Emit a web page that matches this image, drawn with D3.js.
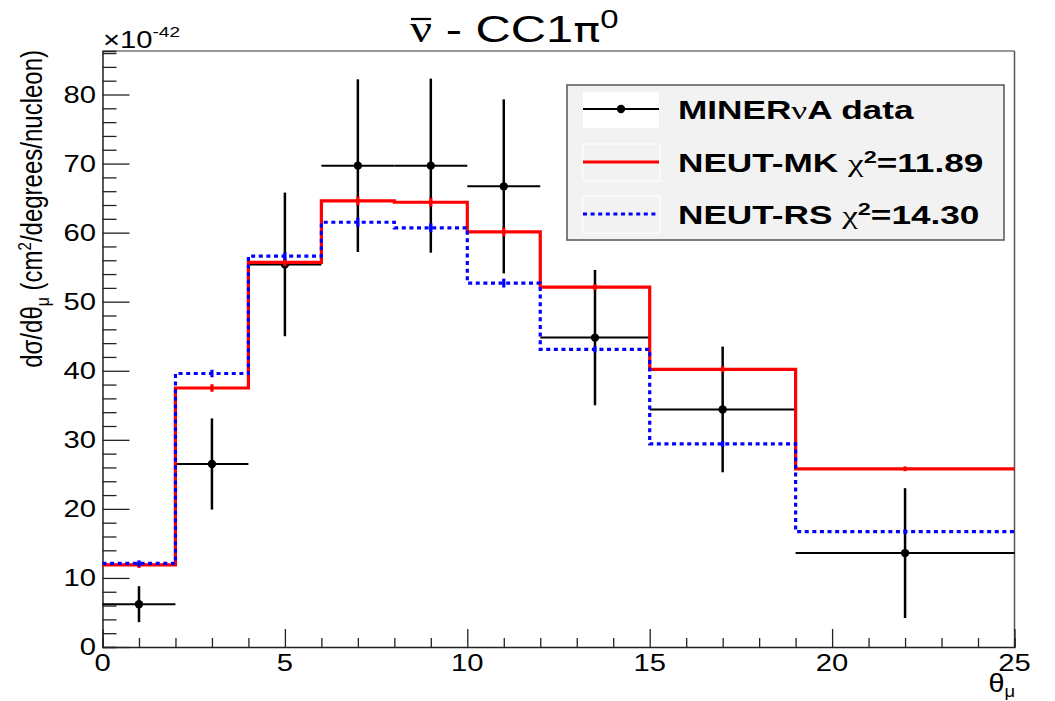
<!DOCTYPE html>
<html>
<head>
<meta charset="utf-8">
<script src="https://cdn.jsdelivr.net/npm/d3@7"></script>
<style>
  body { margin: 0; background: #fff; }
  text { font-family: "Liberation Sans", Arial, sans-serif; fill: #000; }
</style>
</head>
<body>
<svg id="chart" width="1055" height="701"></svg>
<script>
// Variables
var width = 1055;
var height = 701;
var SX = 1.27; // picture is a bit wider than tall, text looks stretched

// bin edges of theta_mu (degrees)
var binEdges = [0, 2, 4, 6, 8, 10, 12, 15, 19, 25];

// MINERvA data, units of 1e-42
var dataVal = [6.2, 26.5, 55.4, 69.7, 69.7, 66.7, 44.8, 34.4, 13.6];
var dataErr = [2.6, 6.6, 10.4, 12.5, 12.6, 12.6, 9.8, 9.1, 9.4];

// NEUT predictions
var mkVal = [11.9, 37.5, 55.7, 64.6, 64.4, 60.1, 52.1, 40.2, 25.8];
var mkErr = [0.3, 0.4, 0.4, 0.5, 0.5, 0.5, 0.3, 0.3, 0.2];
var rsVal = [12.1, 39.6, 56.6, 61.5, 60.7, 52.7, 43.1, 29.4, 16.7];
var rsErr = [0.3, 0.4, 0.4, 0.5, 0.5, 0.5, 0.3, 0.3, 0.2];

var xTicks = [0, 5, 10, 15, 20, 25];
var yTicks = [0, 10, 20, 30, 40, 50, 60, 70, 80];
var legendLabels = ['MINERνA data', 'NEUT-MK', 'NEUT-RS'];
var legendChi2 = [null, '11.89', '14.30'];

var svg = d3.select('#chart');

var x = d3.scaleLinear().domain([0, 25]).range([102.5, 1014.5]);
var y = d3.scaleLinear().domain([0, 86.3]).range([647, 51]);

// helper for stretched text
function place(sel, px, py, sx) {
  return sel.attr('transform', 'translate(' + px + ',' + py + ') scale(' + (sx || SX) + ',1)');
}

// frame (top / right)
svg.append('line').attr('x1', x(0)).attr('x2', x(25)).attr('y1', y(86.3)).attr('y2', y(86.3))
  .attr('stroke', '#777').attr('stroke-width', 1.5);
svg.append('line').attr('x1', x(25)).attr('x2', x(25)).attr('y1', y(86.3)).attr('y2', y(0))
  .attr('stroke', '#555').attr('stroke-width', 1.5);

// axes, ROOT style ticks pointing inside
var xAxis = svg.append('g').attr('transform', 'translate(0,' + y(0) + ')')
  .call(d3.axisTop(x).tickValues(d3.range(0, 26, 1)).tickSize(9).tickFormat(''));
xAxis.selectAll('.tick line').attr('y2', function(d) { return d % 5 === 0 ? -18 : -9; });
var yAxis = svg.append('g').attr('transform', 'translate(' + x(0) + ',0)')
  .call(d3.axisRight(y).tickValues(d3.range(0, 87, 2)).tickSize(14).tickFormat(''));
yAxis.selectAll('.tick line').attr('x2', function(d) { return d % 10 === 0 ? 27 : 14; });
[xAxis, yAxis].forEach(function(a) {
  a.select('.domain').attr('stroke', '#222').attr('stroke-width', 1.5);
  a.selectAll('.tick line').attr('stroke', '#222').attr('stroke-width', 1.3);
});

// tick labels
xTicks.forEach(function(t) {
  place(svg.append('text'), x(t), 671).attr('text-anchor', 'middle')
    .attr('font-size', 23).text(t);
});
yTicks.forEach(function(t) {
  place(svg.append('text'), 96, y(t) + 8).attr('text-anchor', 'end')
    .attr('font-size', 23).text(t);
});

// exponent
var ex = place(svg.append('text'), 103, 48).attr('font-size', 23);
ex.append('tspan').text('×10');
ex.append('tspan').attr('font-size', 15).attr('dy', -11).text('-42');

// axis titles
var xt = place(svg.append('text'), 1015, 692, 1.15).attr('text-anchor', 'end').attr('font-size', 25);
xt.append('tspan').text('θ');
xt.append('tspan').attr('font-size', 16).attr('dy', 5).text('μ');

var yt = svg.append('text').attr('font-size', 24).attr('text-anchor', 'end')
  .attr('transform', 'translate(42,50) scale(1.2,1) rotate(-90)');
yt.append('tspan').text('dσ/dθ');
yt.append('tspan').attr('font-size', 16).attr('dy', 6).text('μ');
yt.append('tspan').attr('dy', -6).text(' (cm');
yt.append('tspan').attr('font-size', 15).attr('dy', -9).text('2');
yt.append('tspan').attr('dy', 9).text('/degrees/nucleon)');

// title
var TSX = 1.32;
var title = place(svg.append('text'), 410, 42, TSX).attr('font-size', 37);
title.append('tspan').attr('font-family', '"Liberation Serif", serif').text('ν');
title.append('tspan').text(' - CC1');
title.append('tspan').attr('font-family', '"DejaVu Sans", sans-serif').attr('font-size', 34).text('π');
title.append('tspan').attr('font-size', 25).attr('dy', -14).text('0');
var nu = title.node().getExtentOfChar(0);
svg.append('line')
  .attr('x1', 410 + nu.x * TSX + 1).attr('x2', 410 + (nu.x + nu.width) * TSX - 1)
  .attr('y1', 19).attr('y2', 19).attr('stroke', '#000').attr('stroke-width', 2.2);

// data points with error bars
var g = svg.append('g');
dataVal.forEach(function(v, i) {
  var lo = binEdges[i], hi = binEdges[i + 1], c = (lo + hi) / 2;
  g.append('line').attr('x1', x(lo)).attr('x2', x(hi)).attr('y1', y(v)).attr('y2', y(v))
    .attr('stroke', '#000').attr('stroke-width', 2);
  g.append('line').attr('x1', x(c)).attr('x2', x(c)).attr('y1', y(v - dataErr[i])).attr('y2', y(v + dataErr[i]))
    .attr('stroke', '#000').attr('stroke-width', 2.5);
  g.append('circle').attr('cx', x(c)).attr('cy', y(v)).attr('r', 4.2).attr('fill', '#000');
});

// histograms
function histPts(vals) {
  var pts = vals.map(function(v, i) { return [binEdges[i], v]; });
  pts.push([binEdges[binEdges.length - 1], vals[vals.length - 1]]);
  return pts;
}
var line = d3.line().x(function(d) { return x(d[0]); }).y(function(d) { return y(d[1]); })
  .curve(d3.curveStepAfter);

function drawHist(vals, errs, color, dash) {
  var h = svg.append('g');
  h.append('path').attr('d', line(histPts(vals))).attr('fill', 'none')
    .attr('stroke', color).attr('stroke-width', 3.2).attr('stroke-dasharray', dash);
  vals.forEach(function(v, i) {
    var c = (binEdges[i] + binEdges[i + 1]) / 2;
    h.append('line').attr('x1', x(c)).attr('x2', x(c))
      .attr('y1', y(v - errs[i]) + 1).attr('y2', y(v + errs[i]) - 1)
      .attr('stroke', color).attr('stroke-width', 3.2);
  });
}
drawHist(mkVal, mkErr, '#ff0000', null);
drawHist(rsVal, rsErr, '#0000ff', '4,3.6');

// legend
var leg = svg.append('g');
leg.append('rect').attr('x', 567).attr('y', 85).attr('width', 437).attr('height', 155)
  .attr('fill', '#f2f2f2').attr('stroke', '#555').attr('stroke-width', 1.5);
var rowY = [109, 162, 214];
leg.append('rect').attr('x', 583).attr('y', 92).attr('width', 76).attr('height', 36).attr('fill', '#fff');
[1, 2].forEach(function(i) {
  leg.append('rect').attr('x', 583).attr('y', rowY[i] - 18).attr('width', 77).attr('height', 37)
    .attr('fill', 'none').attr('stroke', '#fff').attr('stroke-width', 1);
});
leg.append('line').attr('x1', 583).attr('x2', 659).attr('y1', rowY[0]).attr('y2', rowY[0])
  .attr('stroke', '#000').attr('stroke-width', 2);
leg.append('circle').attr('cx', 621).attr('cy', rowY[0]).attr('r', 4.2).attr('fill', '#000');
leg.append('line').attr('x1', 583).attr('x2', 659).attr('y1', rowY[1]).attr('y2', rowY[1])
  .attr('stroke', '#ff0000').attr('stroke-width', 3.2);
leg.append('line').attr('x1', 583).attr('x2', 659).attr('y1', rowY[2]).attr('y2', rowY[2])
  .attr('stroke', '#0000ff').attr('stroke-width', 3.2).attr('stroke-dasharray', '4,3.6');

legendLabels.forEach(function(lab, i) {
  var t = place(leg.append('text'), 678, rowY[i] + 10, 1.38).attr('font-size', 25.5).attr('font-weight', 'bold');
  if (i === 0) {
    t.append('tspan').text('MINER');
    t.append('tspan').attr('font-family', '"Liberation Serif", serif').attr('font-weight', 'normal').text('ν');
    t.append('tspan').text('A data');
  } else {
    t.append('tspan').text(lab + ' ');
    t.append('tspan').attr('font-family', '"Liberation Serif", serif').attr('font-weight', 'normal').text('χ');
    t.append('tspan').attr('font-size', 17).attr('dy', -9).text('2');
    t.append('tspan').attr('dy', 9).text('=' + legendChi2[i]);
  }
});
</script>
</body>
</html>
